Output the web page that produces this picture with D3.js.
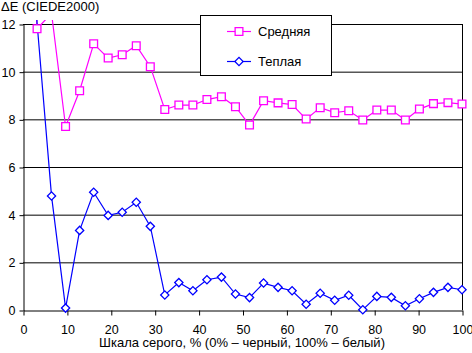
<!DOCTYPE html>
<html>
<head>
<meta charset="utf-8">
<script src="https://cdn.jsdelivr.net/npm/d3@7"></script>
<style>
  body { margin: 0; background: #fff; }
  svg { display: block; font-family: "Liberation Sans", Arial, sans-serif; }
</style>
</head>
<body>
<svg></svg>
<script>
// Grey level, %
const grey = [0, 3.2, 6.5, 9.7, 12.9, 16.1, 19.4, 22.6, 25.8, 29, 32.3, 35.5, 38.7, 41.9, 45.2, 48.4,
  51.6, 54.8, 58.1, 61.3, 64.5, 67.7, 71, 74.2, 77.4, 80.6, 83.9, 87.1, 90.3, 93.5, 96.8, 100];
// dE for each series
const avgValues = [25, 11.8, 12.45, 7.7, 9.2, 11.17, 10.57, 10.71, 11.09, 10.21, 8.41, 8.6, 8.6, 8.83, 8.95, 8.53,
  7.76, 8.78, 8.69, 8.62, 8.01, 8.49, 8.28, 8.36, 7.97, 8.39, 8.39, 7.97, 8.43, 8.66, 8.7, 8.64];
const warmValues = [30, 12.05, 4.78, 0.08, 3.34, 4.94, 3.97, 4.1, 4.52, 3.51, 0.63, 1.15, 0.81, 1.27, 1.38, 0.67,
  0.52, 1.13, 0.95, 0.81, 0.24, 0.7, 0.41, 0.62, 0.01, 0.57, 0.53, 0.18, 0.47, 0.74, 0.95, 0.85];
const seriesNames = ['Средняя', 'Теплая'];
const xTicks = [0, 10, 20, 30, 40, 50, 60, 70, 80, 90, 100];
const yTicks = [0, 2, 4, 6, 8, 10, 12];

const width = 472;
const height = 353;

const x = d3.scaleLinear().domain([0, 100]).range([23, 462]);
const y = d3.scaleLinear().domain([0, 12]).range([310, 24]);

const svg = d3.select('svg')
  .attr('width', width)
  .attr('height', height);

svg.append('defs').append('clipPath')
  .attr('id', 'clip')
  .append('rect')
  .attr('x', x(0))
  .attr('y', y(12) - 4)
  .attr('width', x(100) - x(0))
  .attr('height', y(0) - y(12) + 8);

// Gridlines
svg.append('g')
  .selectAll('line')
  .data(yTicks.filter(d => d > 0))
  .enter()
  .append('line')
  .attr('x1', x(0)).attr('x2', x(100))
  .attr('y1', d => y(d) + 0.5).attr('y2', d => y(d) + 0.5)
  .attr('stroke', '#000');

// Right border
svg.append('line')
  .attr('x1', x(100) + 0.5).attr('x2', x(100) + 0.5)
  .attr('y1', y(12)).attr('y2', y(0))
  .attr('stroke', '#000');

// Axes
const xAxis = svg.append('g')
  .attr('transform', `translate(0.5, ${y(0) + 0.5})`)
  .call(d3.axisBottom(x).tickValues(xTicks).tickSize(5).tickSizeOuter(0));
xAxis.selectAll('text').attr('dy', null).attr('y', 23);

const yAxis = svg.append('g')
  .attr('transform', `translate(${x(0) + 0.5}, 0.5)`)
  .call(d3.axisLeft(y).tickValues(yTicks).tickSize(4).tickSizeOuter(0));
yAxis.selectAll('text').attr('x', -8);

svg.selectAll('.domain, .tick line').attr('stroke', '#000');
svg.selectAll('.tick text')
  .attr('fill', '#000')
  .style('font-size', '12.5px')
  .style('font-family', '"Liberation Sans", Arial, sans-serif');

// Axis titles
svg.append('text')
  .attr('x', 1).attr('y', 11)
  .style('font-size', '13px')
  .text('ΔE (CIEDE2000)');

svg.append('text')
  .attr('x', 242).attr('y', 347)
  .attr('text-anchor', 'middle')
  .style('font-size', '13px')
  .text('Шкала серого, % (0% – черный, 100% – белый)');

// Series: square markers, and squares turned 45deg as diamonds
const series = [
  { name: seriesNames[0], values: avgValues, color: '#ff00ff', size: 60, rotate: 0 },
  { name: seriesNames[1], values: warmValues, color: '#0000ff', size: 34, rotate: 45 }
];

const line = d3.line()
  .x(d => x(d[0]))
  .y(d => y(d[1]));

const plot = svg.append('g').attr('clip-path', 'url(#clip)');

series.forEach(function (s) {
  const pts = grey.map((g, i) => [g, s.values[i]]);
  plot.append('path')
    .attr('d', line(pts))
    .attr('fill', 'none')
    .attr('stroke', s.color)
    .attr('stroke-width', 1.2);
  svg.append('g')
    .selectAll('path')
    .data(pts.filter(d => d[1] >= 0 && d[1] <= 12))
    .enter()
    .append('path')
    .attr('d', d3.symbol().type(d3.symbolSquare).size(s.size))
    .attr('transform', d => `translate(${x(d[0])}, ${y(d[1])}) rotate(${s.rotate})`)
    .attr('fill', '#fff')
    .attr('stroke', s.color)
    .attr('stroke-width', 1.3);
});

// Legend
const legend = svg.append('g');
legend.append('rect')
  .attr('x', 200.5).attr('y', 15.5)
  .attr('width', 131).attr('height', 60)
  .attr('fill', '#fff')
  .attr('stroke', '#000');

series.forEach(function (s, i) {
  const ly = 31 + i * 30;
  legend.append('line')
    .attr('x1', 227).attr('x2', 251)
    .attr('y1', ly + 0.5).attr('y2', ly + 0.5)
    .attr('stroke', s.color)
    .attr('stroke-width', 1.2);
  legend.append('path')
    .attr('d', d3.symbol().type(d3.symbolSquare).size(s.size))
    .attr('transform', `translate(239, ${ly + 0.5}) rotate(${s.rotate})`)
    .attr('fill', '#fff')
    .attr('stroke', s.color)
    .attr('stroke-width', 1.3);
  legend.append('text')
    .attr('x', 258).attr('y', ly + 5)
    .style('font-size', '13px')
    .text(s.name);
});
</script>
</body>
</html>
